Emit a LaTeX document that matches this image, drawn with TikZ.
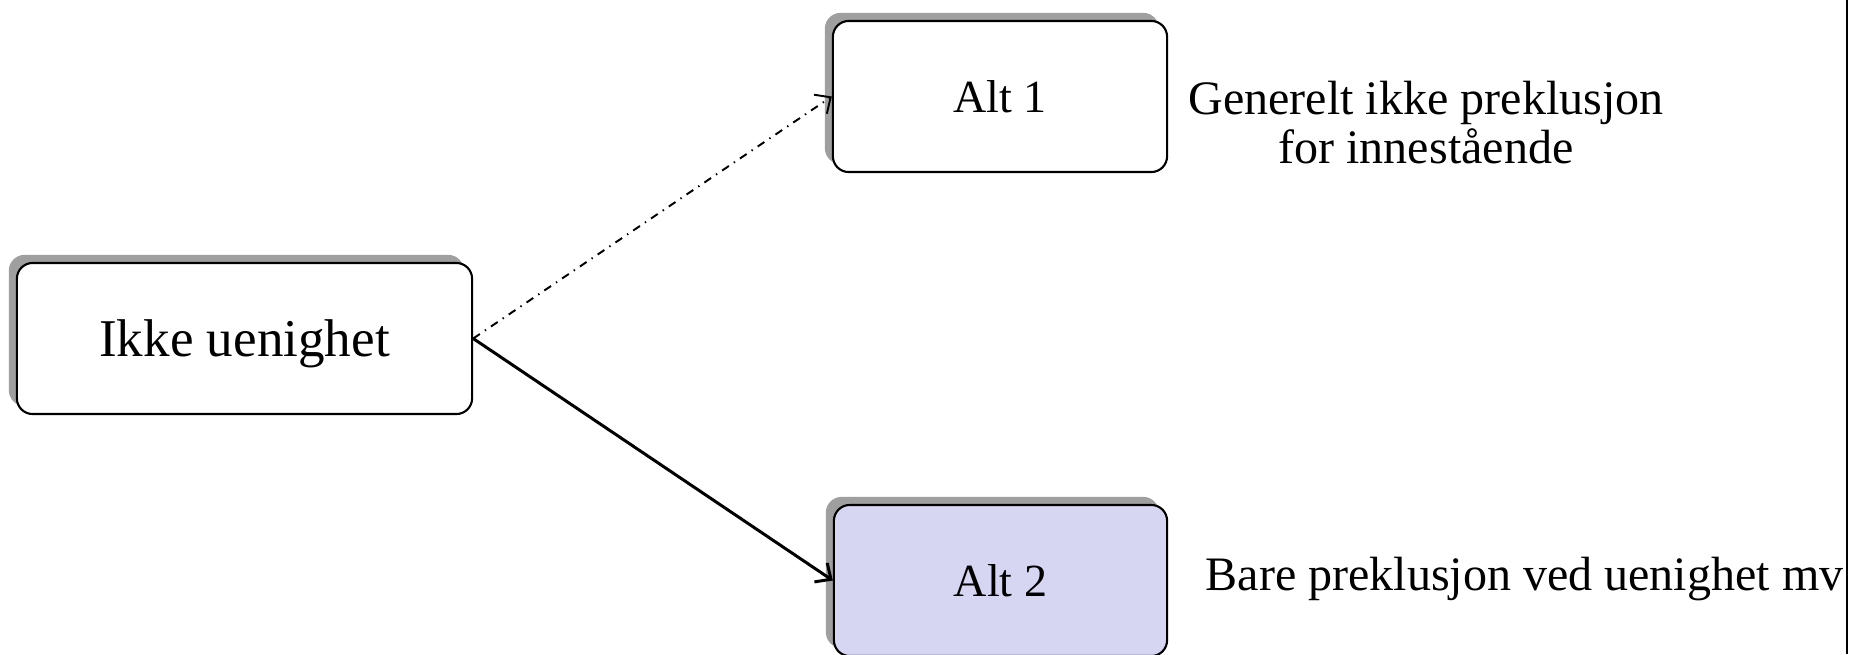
\documentclass[tikz,border=0pt]{standalone}
\usepackage{fontspec}
\setmainfont{Liberation Serif}
\usetikzlibrary{shadows, arrows.meta}

\definecolor{altblue}{RGB}{214, 214, 242}

\tikzset{
	roundbox/.style = {draw, rounded corners = 4.5pt, line width = 0.6pt, fill = white, inner sep = 0pt,
		general shadow = {fill = gray!75, shadow xshift = -2.3pt, shadow yshift = 2.3pt}},
	sidetext/.style = {font = \fontsize{13.66}{13.66}\selectfont, inner sep = 0pt},
	barb/.style = {-{Straight Barb[length = 3.5pt, width = 6.5pt]}}
}

\begin{document}
\begin{tikzpicture}[x = 0.01cm, y = -0.01cm]

	\useasboundingbox (0, 0) rectangle (1850, 654);

	% Boxes

	\node [roundbox, minimum width = 4.55cm, minimum height = 1.51cm, text depth = 0pt, font = \fontsize{15.1}{18}\selectfont] (ikke) at (244.5, 338.5) {Ikke uenighet};
	\node [roundbox, minimum width = 3.34cm, minimum height = 1.51cm, font = \fontsize{13.1}{16}\selectfont] (alt1) at (1000, 96.5) {Alt 1};
	\node [roundbox, fill = altblue, minimum width = 3.33cm, minimum height = 1.51cm, font = \fontsize{13.1}{16}\selectfont] (alt2) at (1000.5, 580.5) {Alt 2};

	% Connectors

	\draw [barb, line width = 0.55pt, dash pattern = on 2.3pt off 1.7pt on 0.4pt off 1.7pt] (ikke.east) -- (alt1.west);
	\draw [barb, line width = 0.85pt] (ikke.east) -- (alt2.west);

	% Texts

	\node [sidetext, align = center, anchor = base] (gentext) at (1426, 163) {Generelt ikke preklusjon\\for innestående};
	\node [sidetext, anchor = base west] (baretext) at (1205, 590) {Bare preklusjon ved uenighet mv};

	% Edge

	\draw [line width = 0.7pt] (1847, 0) -- (1847, 654);

\end{tikzpicture}
\end{document}
